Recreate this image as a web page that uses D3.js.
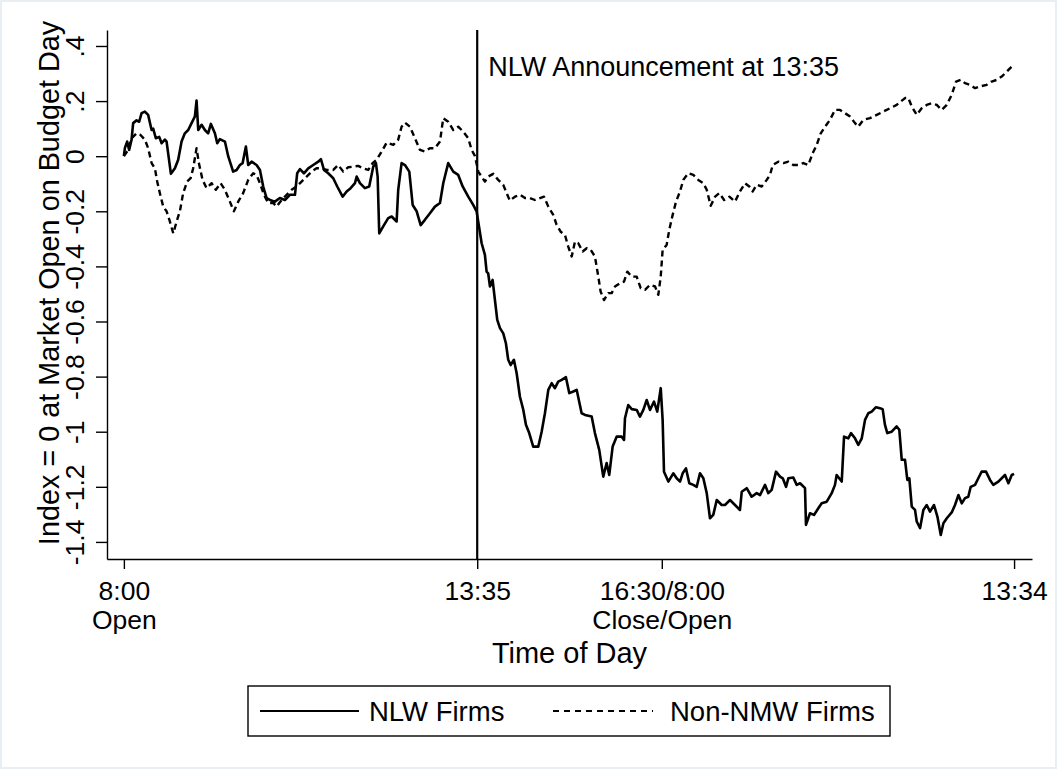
<!DOCTYPE html>
<html>
<head>
<meta charset="utf-8">
<script src="https://cdnjs.cloudflare.com/ajax/libs/d3/7.8.5/d3.min.js"></script>
<style>
  body { margin: 0; background: #fff; }
  text { font-family: "Liberation Sans", Arial, Helvetica, sans-serif; fill: #000; }
</style>
</head>
<body>
<div id="chart"></div>
<script>
// minutes after 8:00 open on budget day; day 2 continues from 510 (16:30 close = 8:00 open)
var nlwMinutes = [0,1,3.1,5,7.3,8.8,12,14.5,16.8,19.9,23,26.3,27.8,30.3,33.5,35.8,38.9,40.5,44.6,48.4,
  51.5,54.7,57.8,61,64.2,67.3,68.9,70.5,73.7,76.8,79.9,82.5,86.3,88.5,91,95.8,98.9,103.6,106.9,110,
  112.6,115.7,117.9,121.1,125.8,129,132.1,135.3,138.5,143.2,147.9,152.7,157.4,162.2,164.3,166.9,170.7,174.8,179.5,184.3,
  186.8,189.7,193.7,198.5,202.3,207.4,211.2,215,219.1,220.7,223.8,228.5,232.6,236.4,239,240.6,242.1,245.9,250.6,253.9,
  258.6,260.1,263.3,266.5,270.6,273.8,277.6,281.4,285.4,290.2,294.9,299.7,302.8,307.5,312.3,317,321.2,326.5,331.2,334.4,
  339.2,342.3,343.9,345.4,347.1,349.6,351.8,354,356.6,359.7,362.2,364.4,366.7,369.8,372.4,375.5,378.7,381.2,384.3,388.1,
  392.9,396.1,399.2,402.4,405.6,408.7,411.8,415.1,419.1,422.3,426.1,429.3,434,437.2,443.5,446.6,450.7,454.5,457.7,460.2,
  463.4,467.2,472,474.2,475.1,478.2,481.5,486.2,489.3,492.5,495.7,498.8,502.6,505.7,509,510.8,512.1,516.2,520.9,524.1,
  527.3,529.8,532.9,536.1,539.9,543.1,546.2,549.4,552.6,555.7,558.8,562.1,566.8,569.9,574.7,579.4,584.1,585.8,590.5,595.2,
  600,603.1,607.9,611,614.2,618.3,622.1,624.7,627.8,630,634.7,637.9,641.1,645.8,646.7,650.5,654.3,658.4,661.6,666.4,
  671.1,674.2,675.8,680.6,682.8,686.8,689.4,693.2,696.3,699.6,702.7,705.8,709,713.1,716.9,719.4,721.6,723.8,728,732.7,
  735.2,737.5,740.6,742.8,744.7,747,750.1,751.7,754.9,758,761.2,764.3,768.1,771.3,774.5,777,780.2,784.9,788,791.2,
  794.4,797.5,800.6,802.9,807,810.1,813.3,817.4,821.2,824.3,829.1,832.3,835.4,838.6,841.8,844];

var nlwIndex = [0,0.03,0.053,0.023,0.06,0.12,0.13,0.125,0.156,0.162,0.15,0.095,0.1,0.065,0.07,0.047,0.06,0.053,-0.064,-0.044,
  -0.013,0.053,0.083,0.095,0.12,0.144,0.202,0.095,0.114,0.095,0.083,0.117,0.083,0.047,0.062,0.053,0,-0.056,-0.05,-0.032,
  -0.025,0.035,-0.032,-0.02,-0.032,-0.05,-0.11,-0.152,-0.159,-0.165,-0.152,-0.159,-0.14,-0.14,-0.062,-0.047,-0.062,-0.044,-0.032,-0.02,
  -0.011,-0.05,-0.062,-0.08,-0.11,-0.147,-0.128,-0.116,-0.098,-0.074,-0.098,-0.116,-0.11,-0.038,-0.025,-0.074,-0.28,-0.255,-0.225,-0.219,
  -0.237,-0.122,-0.025,-0.032,-0.056,-0.177,-0.2,-0.25,-0.231,-0.207,-0.183,-0.17,-0.098,-0.025,-0.056,-0.068,-0.11,-0.147,-0.177,-0.2,
  -0.316,-0.358,-0.419,-0.425,-0.473,-0.449,-0.522,-0.594,-0.624,-0.643,-0.679,-0.739,-0.758,-0.739,-0.788,-0.873,-0.921,-0.975,-1.005,-1.054,
  -1.054,-1.0,-0.933,-0.848,-0.824,-0.842,-0.818,-0.812,-0.802,-0.86,-0.854,-0.848,-0.933,-0.939,-0.945,-1.005,-1.066,-1.163,-1.114,-1.157,
  -1.054,-1.018,-1.018,-1.03,-0.951,-0.903,-0.918,-0.921,-0.945,-0.921,-0.885,-0.921,-0.891,-0.927,-0.842,-0.957,-1.145,-1.181,-1.151,-1.169,
  -1.181,-1.151,-1.133,-1.187,-1.193,-1.2,-1.151,-1.169,-1.223,-1.314,-1.302,-1.248,-1.266,-1.266,-1.248,-1.266,-1.284,-1.218,-1.205,-1.236,
  -1.223,-1.23,-1.193,-1.223,-1.211,-1.145,-1.163,-1.169,-1.2,-1.169,-1.166,-1.193,-1.187,-1.205,-1.338,-1.296,-1.302,-1.278,-1.26,-1.254,
  -1.223,-1.193,-1.157,-1.181,-1.018,-1.024,-1.005,-1.024,-1.048,-1.024,-0.957,-0.933,-0.927,-0.911,-0.915,-0.918,-0.975,-1.005,-1.0,-0.981,
  -0.993,-1.102,-1.102,-1.175,-1.169,-1.272,-1.284,-1.326,-1.35,-1.284,-1.266,-1.29,-1.266,-1.308,-1.375,-1.332,-1.314,-1.293,-1.266,-1.23,
  -1.26,-1.241,-1.236,-1.2,-1.193,-1.169,-1.145,-1.145,-1.175,-1.193,-1.181,-1.169,-1.157,-1.187,-1.157,-1.153];

var nonMinutes = [0,4.1,7.3,12,15.8,19.9,23,26.3,29.4,31.6,34.1,37.3,40.5,43.6,46.8,50.5,53.1,56.2,60,63.3,
  65.7,68.9,71.1,74.6,78.4,83.2,87.2,91.7,95.8,100.5,104.3,108.4,113.1,117.9,122.6,125.8,129,132.8,136.8,141.6,
  144.8,149.5,154.3,159,163.8,168.5,173.3,178,182.7,187.5,192.2,198.5,203.2,208,212.7,217.4,222.2,226.9,231.7,235.8,
  239.6,244.4,249.1,255.4,260.1,263.3,266.5,271.2,276,280.7,285.4,290.2,294.9,299.7,302.8,307.5,312.3,317,321.8,326.5,
  329.7,332.9,336,342.3,345.4,350.2,354.9,359.7,362.9,366,370.8,375.5,380.3,385,389.7,394.5,398.3,402.4,407.1,410.3,
  414.1,418.2,421.3,424.6,427.7,430.8,435,438.8,442.6,446.6,449.8,452,455.2,459.3,462.5,465.6,470.4,474.2,477.3,481.5,
  486.2,490,494.1,498.8,503.6,506.7,509,510.8,514.6,517.1,520.3,523.5,527.3,530.4,535.1,539.9,544.6,549.4,552.6,556.4,
  560.5,564.6,569.1,574.1,579.4,584.1,588.9,593,596.2,600,604.7,609.5,612.6,615.2,620.5,625.3,630,634.7,639.4,644.2,
  648.9,653.1,656.9,660.7,664.8,669.5,674.2,679,683.7,688.5,693.2,696.3,701.1,707.4,713.8,720.1,726.4,732.7,740.6,743.8,
  747,751.7,756.4,761.2,765.9,770.7,775.4,780.2,784.9,789,793.5,797.5,802.3,807,811.7,818.1,822.8,827.6,832.3,837.1,
  841.8,844];

var nonIndex = [0,0.023,0.065,0.083,0.077,0.06,0.029,-0.025,-0.044,-0.092,-0.134,-0.183,-0.2,-0.237,-0.28,-0.231,-0.2,-0.134,-0.092,-0.08,
  -0.044,0.029,-0.025,-0.086,-0.116,-0.098,-0.122,-0.098,-0.122,-0.165,-0.2,-0.165,-0.134,-0.086,-0.062,-0.068,-0.098,-0.14,-0.17,-0.17,
  -0.183,-0.159,-0.14,-0.122,-0.11,-0.092,-0.074,-0.056,-0.044,-0.044,-0.05,-0.05,-0.032,-0.056,-0.04,-0.038,-0.035,-0.044,-0.05,-0.025,
  -0.013,0.017,0.049,0.041,0.06,0.107,0.122,0.107,0.065,0.023,0.017,0.029,0.029,0.053,0.138,0.125,0.095,0.107,0.089,0.065,
  0.023,0,-0.056,-0.092,-0.074,-0.064,-0.086,-0.104,-0.134,-0.161,-0.147,-0.14,-0.152,-0.152,-0.159,-0.152,-0.147,-0.183,-0.213,-0.249,
  -0.274,-0.286,-0.328,-0.364,-0.31,-0.316,-0.346,-0.334,-0.34,-0.364,-0.437,-0.491,-0.522,-0.497,-0.497,-0.473,-0.461,-0.455,-0.419,-0.437,
  -0.437,-0.479,-0.485,-0.467,-0.473,-0.503,-0.437,-0.34,-0.322,-0.267,-0.213,-0.165,-0.128,-0.086,-0.062,-0.068,-0.086,-0.098,-0.122,-0.18,
  -0.147,-0.134,-0.159,-0.147,-0.165,-0.128,-0.098,-0.11,-0.128,-0.104,-0.11,-0.086,-0.068,-0.032,-0.02,-0.025,-0.02,-0.032,-0.032,-0.025,
  -0.032,0.011,0.041,0.083,0.107,0.132,0.168,0.168,0.156,0.144,0.12,0.107,0.132,0.138,0.15,0.162,0.174,0.186,0.211,0.211,
  0.18,0.15,0.174,0.186,0.192,0.186,0.168,0.186,0.223,0.271,0.277,0.265,0.259,0.247,0.253,0.259,0.271,0.277,0.289,0.307,
  0.325,0.331];

var xTickValues = [0, 335, 510, 844];
var xTickLabels = [["8:00", "Open"], ["13:35"], ["16:30/8:00", "Close/Open"], ["13:34"]];
var yTickValues = [0.4, 0.2, 0, -0.2, -0.4, -0.6, -0.8, -1, -1.2, -1.4];
var announceMinute = 335;

var width = 1057, height = 769;
var margin = {top: 30, left: 107, right: 25, bottom: 210};

var svg = d3.select("#chart").append("svg")
  .attr("width", width)
  .attr("height", height);

svg.append("rect")
  .attr("x", 0.5).attr("y", 0.5)
  .attr("width", width - 1).attr("height", height - 1)
  .attr("fill", "#fff")
  .attr("stroke", "#e8eef1")
  .attr("stroke-width", 3);

var x = d3.scaleLinear()
  .domain([-16, 861])
  .range([margin.left, width - margin.right]);

var y = d3.scaleLinear()
  .domain([-1.462, 0.458])
  .range([height - margin.bottom, margin.top]);

// stata style tick labels: .4, -.2, -1.2
function stataFmt(v) {
  if (Math.abs(v) < 1e-9) return "0";
  var s = d3.format("")(Math.round(v * 10) / 10);
  return s.replace(/^(-?)0\./, "$1.").replace("−", "-");
}

// y axis
var yAxis = svg.append("g")
  .attr("transform", "translate(" + margin.left + ",0)")
  .call(d3.axisLeft(y).tickValues(yTickValues).tickFormat(stataFmt).tickSize(11).tickSizeOuter(0));

yAxis.selectAll("text")
  .attr("x", null).attr("dy", null)
  .attr("text-anchor", "middle")
  .attr("transform", "translate(-23,0) rotate(-90)")
  .style("font-size", "26.5px");

// x axis
var xAxis = svg.append("g")
  .attr("transform", "translate(0," + (height - margin.bottom) + ")")
  .call(d3.axisBottom(x).tickValues(xTickValues).tickFormat("").tickSize(10).tickSizeOuter(0));

xAxis.selectAll(".tick").each(function(d, i) {
  var t = d3.select(this).append("text")
    .attr("text-anchor", "middle")
    .style("font-size", "26.5px");
  xTickLabels[i].forEach(function(line, j) {
    t.append("tspan").attr("x", 0).attr("y", 41 + j * 29).text(line);
  });
});

svg.selectAll(".domain, .tick line").attr("stroke", "#000").attr("stroke-width", 1.4);
svg.selectAll(".tick text").attr("fill", "#000");

// axis titles
svg.append("text")
  .attr("transform", "translate(59,283) rotate(-90)")
  .attr("text-anchor", "middle")
  .style("font-size", "28.8px")
  .text("Index = 0 at Market Open on Budget Day");

svg.append("text")
  .attr("x", (x(-16) + x(861)) / 2)
  .attr("y", 663)
  .attr("text-anchor", "middle")
  .style("font-size", "29px")
  .text("Time of Day");

// announcement line
svg.append("line")
  .attr("x1", x(announceMinute)).attr("x2", x(announceMinute))
  .attr("y1", y(0.458)).attr("y2", y(-1.462))
  .attr("stroke", "#000")
  .attr("stroke-width", 2.2);

svg.append("text")
  .attr("x", x(announceMinute) + 11)
  .attr("y", 76)
  .style("font-size", "27px")
  .text("NLW Announcement at 13:35");

// series
function makeLine(minutes, values) {
  return d3.line()
    .x(function(i) { return x(minutes[i]); })
    .y(function(i) { return y(values[i]); })(d3.range(minutes.length));
}

svg.append("path")
  .attr("d", makeLine(nonMinutes, nonIndex))
  .attr("fill", "none")
  .attr("stroke", "#000")
  .attr("stroke-width", 2.4)
  .attr("stroke-dasharray", "6,4")
  .attr("stroke-linejoin", "round");

svg.append("path")
  .attr("d", makeLine(nlwMinutes, nlwIndex))
  .attr("fill", "none")
  .attr("stroke", "#000")
  .attr("stroke-width", 2.6)
  .attr("stroke-linejoin", "round");

// legend
var legend = svg.append("g");
legend.append("rect")
  .attr("x", 248).attr("y", 686)
  .attr("width", 642).attr("height", 50)
  .attr("fill", "#fff")
  .attr("stroke", "#000")
  .attr("stroke-width", 1.4);

var legendItems = [
  {label: "NLW Firms", x1: 260, x2: 359, tx: 369, dash: null},
  {label: "Non-NMW Firms", x1: 553, x2: 653, tx: 670, dash: "6,5"}
];

legendItems.forEach(function(d) {
  legend.append("line")
    .attr("x1", d.x1).attr("x2", d.x2)
    .attr("y1", 711).attr("y2", 711)
    .attr("stroke", "#000")
    .attr("stroke-width", 2.2)
    .attr("stroke-dasharray", d.dash);
  legend.append("text")
    .attr("x", d.tx).attr("y", 721)
    .style("font-size", "27.5px")
    .text(d.label);
});
</script>
</body>
</html>
